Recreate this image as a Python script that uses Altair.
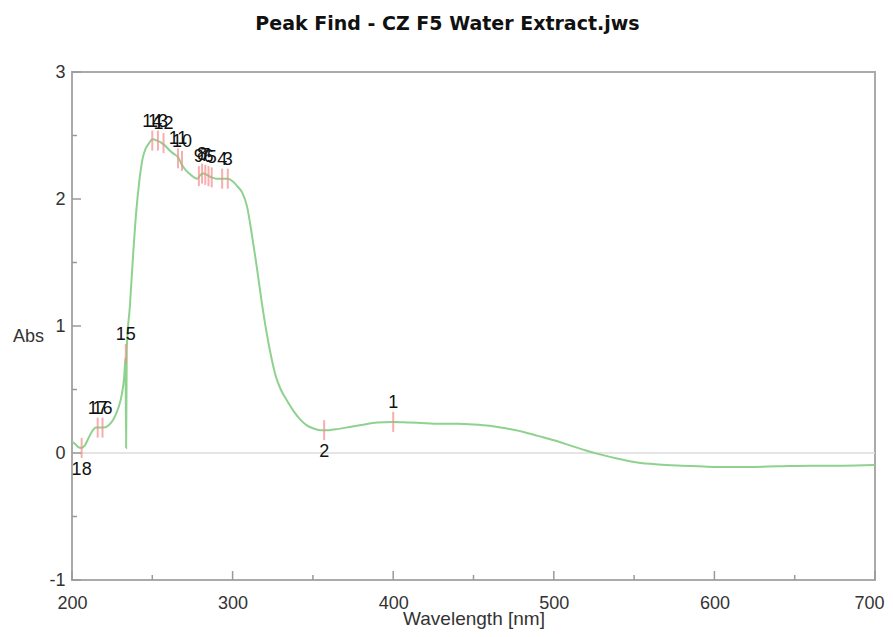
import altair as alt
import pandas as pd

# ---- spectrum ----
wavelength = [200, 202, 204, 206, 208, 210, 212, 215, 218, 220, 223, 226, 229, 231,
              232.5, 233.3, 233.7, 234.1, 236, 238, 240, 242, 244, 246, 248, 250,
              253, 256, 258, 261, 264, 266, 268, 270, 273, 276, 278, 280, 282, 284,
              287, 290, 294, 297, 300, 303, 306, 309, 312, 315, 318, 321, 324, 327,
              330, 334, 338, 342, 346, 350, 355, 360, 366, 373, 380, 390, 400, 410,
              420, 430, 440, 450, 460, 470, 480, 490, 500, 510, 520, 530, 540, 550,
              560, 570, 580, 590, 600, 620, 640, 660, 680, 700]
absorbance = [0.09, 0.07, 0.045, 0.04, 0.06, 0.11, 0.16, 0.20, 0.20, 0.20, 0.22, 0.27, 0.36, 0.46,
              0.60, 0.75, 0.04, 0.82, 1.15, 1.55, 1.90, 2.15, 2.32, 2.40, 2.44, 2.47,
              2.46, 2.44, 2.42, 2.38, 2.35, 2.33, 2.28, 2.24, 2.20, 2.17, 2.16, 2.19, 2.20, 2.19,
              2.17, 2.16, 2.16, 2.16, 2.14, 2.10, 2.05, 1.94, 1.72, 1.47, 1.20, 0.96, 0.76, 0.60,
              0.50, 0.41, 0.33, 0.265, 0.22, 0.195, 0.18, 0.18, 0.19, 0.205, 0.22, 0.24, 0.245, 0.24,
              0.235, 0.23, 0.23, 0.225, 0.215, 0.195, 0.17, 0.135, 0.10, 0.06, 0.02, -0.015, -0.045, -0.07,
              -0.085, -0.095, -0.10, -0.105, -0.11, -0.11, -0.105, -0.10, -0.10, -0.095]

# ---- peaks ----
peak_ids = [18, 17, 16, 15, 14, 13, 12, 11, 10, 9, 8, 7, 6, 5, 4, 3, 2, 1]
peak_wl = [206, 216, 219, 233.5, 250, 253.5, 257, 266, 268.5, 279, 281, 283, 285, 287, 293.5, 297, 357, 400]
peak_abs = [0.04, 0.20, 0.20, 0.78, 2.46, 2.46, 2.44, 2.32, 2.30, 2.18, 2.20, 2.19, 2.18, 2.17, 2.16, 2.16, 0.18, 0.245]
peak_side = ["below", "above", "above", "above", "above", "above", "above", "above", "above",
             "above", "above", "above", "above", "above", "above", "above", "below", "above"]

# ---- axis ticks ----
x_major = [200, 300, 400, 500, 600, 700]
x_minor = [250, 350, 450, 550, 650]
y_major = [-1, 0, 1, 2, 3]
y_minor = [-0.5, 0.5, 1.5, 2.5]

W, H = 803, 508
FONT = "Liberation Sans"
HYPHEN_LABEL = "datum.value < 0 ? '-' + abs(datum.value) : '' + datum.value"

spec = pd.DataFrame({"wl": wavelength, "a": absorbance})
peaks = pd.DataFrame({"wl": peak_wl, "a": peak_abs, "id": [str(i) for i in peak_ids], "side": peak_side})

xs = alt.Scale(domain=[200, 700], nice=False, zero=False)
ys = alt.Scale(domain=[-1, 3], nice=False, zero=False)
xaxis = alt.Axis(values=x_major, ticks=False, domain=False, grid=False, labelPadding=14,
                 labelFlush=False,
                 labelOffset={"condition": {"test": "datum.value >= 700", "value": -6}, "value": 0},
                 labelFont=FONT, labelFontSize=18, labelColor="#333333",
                 title="Wavelength [nm]", titleFont=FONT, titleFontSize=19,
                 titleFontWeight="normal", titleColor="#333333",
                 titleBaseline="alphabetic", titleY=44)
yaxis = alt.Axis(values=y_major, ticks=False, domain=False, grid=False, labelPadding=7,
                 labelFlush=False, labelExpr=HYPHEN_LABEL,
                 labelFont=FONT, labelFontSize=18, labelColor="#333333",
                 title="Abs", titleFont=FONT, titleFontSize=18, titleFontWeight="normal",
                 titleColor="#333333", titleAngle=0, titleAlign="center", titleBaseline="middle",
                 titleX=-44, titleY=264)

X = alt.X("wl:Q", scale=xs, axis=xaxis)
Y = alt.Y("a:Q", scale=ys, axis=yaxis)

zero = alt.Chart(pd.DataFrame({"a": [0]})).mark_rule(color="#dcdcdc", strokeWidth=1.5).encode(y=Y)

line = alt.Chart(spec).mark_line(color="#8fd18f", strokeWidth=2, interpolate="monotone").encode(x=X, y=Y)

markers = alt.Chart(peaks).mark_tick(orient="vertical", size=20, thickness=2, color="#f48c8c").encode(x=X, y=Y)

lab_above = alt.Chart(peaks).transform_filter(alt.datum.side == "above").mark_text(
    font=FONT, fontSize=18, color="#111111", dy=-14, baseline="alphabetic", align="center"
).encode(x=X, y=Y, text="id:N")
lab_below = alt.Chart(peaks).transform_filter(alt.datum.side == "below").mark_text(
    font=FONT, fontSize=18, color="#111111", dy=27, baseline="alphabetic", align="center"
).encode(x=X, y=Y, text="id:N")

tick_col = "#9a9a9a"
xmaj = alt.Chart(pd.DataFrame({"wl": x_major})).mark_rule(color=tick_col, strokeWidth=1.5).encode(
    x=X, y=alt.value(H), y2=alt.value(H - 9))
xmin = alt.Chart(pd.DataFrame({"wl": x_minor})).mark_rule(color=tick_col, strokeWidth=1.5).encode(
    x=X, y=alt.value(H), y2=alt.value(H - 5))
ymaj = alt.Chart(pd.DataFrame({"a": y_major})).mark_rule(color=tick_col, strokeWidth=1.5).encode(
    y=Y, x=alt.value(0), x2=alt.value(9))
ymin = alt.Chart(pd.DataFrame({"a": y_minor})).mark_rule(color=tick_col, strokeWidth=1.5).encode(
    y=Y, x=alt.value(0), x2=alt.value(5))

chart = alt.layer(zero, xmaj, xmin, ymaj, ymin, line, markers, lab_above, lab_below).properties(
    width=W, height=H,
    title=alt.TitleParams("Peak Find - CZ F5 Water Extract.jws", font="DejaVu Sans", fontSize=19,
                          fontWeight="bold", color="#111111", anchor="middle", frame="group",
                          dx=-26, offset=29),
    autosize=alt.AutoSizeParams(type="none"),
    padding={"left": 64, "top": 64, "right": 10, "bottom": 49},
).configure_view(stroke="#aaaaaa", strokeWidth=2)

chart.save("out.html", embed_options={"renderer": "svg", "actions": False})
